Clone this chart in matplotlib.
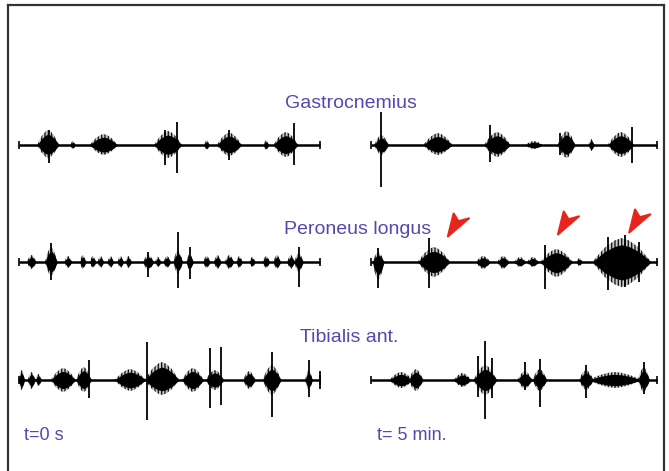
"""
EMG traces: gastrocnemius, peroneus longus and tibialis anterior,
at t=0 s (left) and after 5 min (right).
"""

import matplotlib.pyplot as plt
from matplotlib.path import Path
from matplotlib.patches import PathPatch
from matplotlib.transforms import Affine2D

plt.rcParams["font.family"] = ["Liberation Sans", "DejaVu Sans"]
plt.rcParams["hatch.linewidth"] = 1.0
plt.rcParams["hatch.color"] = "#1a1a1a"

# each trace is a 10 s recording; amplitudes in mV
# bursts: (time, half width, amplitude up, amplitude down)
# spikes: (time, amplitude up, amplitude down)
gas_left_bursts = [(0.98, 0.35, 0.30, 0.26), (1.80, 0.08, 0.08, 0.08),
                   (2.82, 0.45, 0.22, 0.20), (4.95, 0.45, 0.28, 0.26),
                   (6.23, 0.08, 0.10, 0.10), (6.98, 0.40, 0.25, 0.22),
                   (8.20, 0.08, 0.10, 0.10), (8.85, 0.40, 0.26, 0.24)]
gas_left_spikes = [(1.00, 0.30, 0.35), (4.85, 0.30, 0.40), (5.25, 0.46, 0.56),
                   (6.98, 0.30, 0.30), (9.11, 0.44, 0.40)]

gas_right_bursts = [(0.35, 0.25, 0.20, 0.20), (2.33, 0.50, 0.24, 0.20),
                    (4.41, 0.45, 0.26, 0.24), (5.70, 0.30, 0.08, 0.08),
                    (6.84, 0.30, 0.28, 0.26), (7.71, 0.10, 0.12, 0.12),
                    (8.75, 0.45, 0.26, 0.24)]
gas_right_spikes = [(0.35, 0.66, 0.84), (4.17, 0.40, 0.34), (6.60, 0.25, 0.20),
                    (9.13, 0.36, 0.36)]

per_left_bursts = [(0.43, 0.15, 0.14, 0.14), (1.08, 0.20, 0.30, 0.28),
                   (1.64, 0.12, 0.12, 0.12), (2.13, 0.10, 0.14, 0.14),
                   (2.46, 0.10, 0.12, 0.12), (2.72, 0.10, 0.12, 0.12),
                   (3.05, 0.10, 0.12, 0.12), (3.38, 0.10, 0.12, 0.12),
                   (3.64, 0.10, 0.12, 0.12), (4.30, 0.18, 0.14, 0.16),
                   (4.62, 0.10, 0.10, 0.10), (4.92, 0.12, 0.12, 0.12),
                   (5.28, 0.15, 0.24, 0.24), (5.67, 0.12, 0.16, 0.16),
                   (6.23, 0.12, 0.12, 0.12), (6.59, 0.12, 0.14, 0.14),
                   (6.98, 0.15, 0.14, 0.14), (7.31, 0.10, 0.12, 0.12),
                   (7.74, 0.10, 0.10, 0.10), (8.20, 0.12, 0.12, 0.12),
                   (8.56, 0.12, 0.14, 0.14), (9.02, 0.12, 0.14, 0.14),
                   (9.28, 0.15, 0.18, 0.20)]
per_left_spikes = [(1.08, 0.38, 0.36), (4.30, 0.20, 0.30), (5.28, 0.60, 0.52),
                   (5.67, 0.30, 0.34), (9.28, 0.30, 0.50)]

per_right_bursts = [(0.24, 0.20, 0.20, 0.36), (2.19, 0.55, 0.30, 0.30),
                    (3.92, 0.25, 0.12, 0.14), (4.62, 0.20, 0.12, 0.14),
                    (5.21, 0.20, 0.10, 0.10), (5.66, 0.20, 0.10, 0.10),
                    (6.49, 0.55, 0.26, 0.30), (7.29, 0.10, 0.08, 0.08),
                    (8.78, 1.00, 0.48, 0.50)]
per_right_spikes = [(0.24, 0.28, 0.52), (2.01, 0.48, 0.52), (6.08, 0.34, 0.54),
                    (8.30, 0.50, 0.56), (8.90, 0.54, 0.50), (9.40, 0.40, 0.40)]

tib_left_bursts = [(0.10, 0.10, 0.20, 0.20), (0.43, 0.12, 0.16, 0.18),
                   (0.66, 0.10, 0.12, 0.12), (1.48, 0.40, 0.24, 0.24),
                   (2.16, 0.25, 0.26, 0.24), (3.70, 0.50, 0.22, 0.22),
                   (4.75, 0.55, 0.36, 0.30), (5.77, 0.35, 0.24, 0.24),
                   (6.50, 0.30, 0.20, 0.20), (7.64, 0.20, 0.18, 0.18),
                   (8.39, 0.30, 0.30, 0.30), (9.61, 0.12, 0.20, 0.20)]
tib_left_spikes = [(2.33, 0.40, 0.36), (4.26, 0.76, 0.80), (6.33, 0.64, 0.56),
                   (6.72, 0.66, 0.50), (8.39, 0.56, 0.74), (9.61, 0.40, 0.34),
                   (9.98, 0.18, 0.18)]

tib_right_bursts = [(1.04, 0.40, 0.16, 0.16), (1.56, 0.25, 0.22, 0.22),
                    (3.19, 0.30, 0.14, 0.14), (3.99, 0.40, 0.30, 0.30),
                    (5.38, 0.25, 0.18, 0.18), (5.90, 0.25, 0.22, 0.22),
                    (7.53, 0.25, 0.20, 0.20), (8.54, 0.90, 0.16, 0.16),
                    (9.55, 0.20, 0.26, 0.24)]
tib_right_spikes = [(3.72, 0.48, 0.34), (3.99, 0.78, 0.78), (4.24, 0.44, 0.36),
                    (5.38, 0.36, 0.20), (5.90, 0.42, 0.54), (7.53, 0.30, 0.36),
                    (9.55, 0.36, 0.28)]

# arrowhead tips over the peroneus longus trace at 5 min (time, amplitude)
arrow_tips = [(2.67, 0.50), (6.53, 0.54), (9.03, 0.58)]

muscle_names = ["Gastrocnemius", "Peroneus longus", "Tibialis ant."]
time_labels = ["t=0 s", "t= 5 min."]

LABEL_COLOR = "#5548b0"
W, H = 669, 471


def draw_trace(rect, bursts, spikes):
    ax = fig.add_axes(rect)
    ax.set_xlim(-0.05, 10.05)
    ax.set_ylim(-1, 1)
    ax.axis("off")
    ax.patch.set_alpha(0)
    ax.plot([0, 10], [0, 0], color="black", lw=1.8, solid_capstyle="butt")
    ax.vlines([0, 10], -0.08, 0.08, color="black", lw=1.2)
    for t, hw, up, down in bursts:
        xs = [t - hw, t - 0.6 * hw, t - 0.25 * hw, t, t + 0.25 * hw, t + 0.6 * hw, t + hw]
        env = [0.05, 0.6, 0.9, 1.0, 0.9, 0.6, 0.05]
        # streaky outer envelope, dark core
        ax.fill_between(xs, [-down * e for e in env], [up * e for e in env],
                        facecolor="#a8a8a8", alpha=0.6, hatch="|||||", lw=0)
        ax.fill_between(xs, [-0.72 * down * e for e in env],
                        [0.72 * up * e for e in env], color="black", lw=0)
    for t, up, down in spikes:
        ax.vlines(t, -down, up, color="black", lw=1.3)
    return ax


fig = plt.figure(figsize=(W / 100, H / 100), dpi=100)

# frame (bottom edge cropped off)
frame = fig.add_axes([8 / W, 0, 656 / W, 1 - 5 / H])
frame.set_xticks([])
frame.set_yticks([])
frame.spines["bottom"].set_visible(False)
for s in ["left", "top", "right"]:
    frame.spines[s].set_linewidth(1.6)
    frame.spines[s].set_color("#333333")

left_x, left_w = 17 / W, 305 / W
right_x, right_w = 370 / W, 288 / W
baselines = [145, 262, 380]  # pixel rows of trace baselines
traces = [(gas_left_bursts, gas_left_spikes, gas_right_bursts, gas_right_spikes),
          (per_left_bursts, per_left_spikes, per_right_bursts, per_right_spikes),
          (tib_left_bursts, tib_left_spikes, tib_right_bursts, tib_right_spikes)]

axes_right = []
for base, (lb, ls, rb, rs) in zip(baselines, traces):
    bottom = (H - base - 50) / H
    draw_trace([left_x, bottom, left_w, 100 / H], lb, ls)
    axes_right.append(draw_trace([right_x, bottom, right_w, 100 / H], rb, rs))

# red arrowheads pointing down-left; shape drawn in pixels, tip at origin
head = Path([(0, 0), (6, 24), (11, 16), (22, 19), (0, 0)],
            [Path.MOVETO, Path.LINETO, Path.LINETO, Path.LINETO, Path.CLOSEPOLY])
ax_per = axes_right[1]
for t, a in arrow_tips:
    x_px, y_px = ax_per.transData.transform((t, a))
    patch = PathPatch(head, transform=Affine2D().translate(x_px, y_px),
                      fc="#e8241c", ec="#e8241c", lw=1.2)
    fig.add_artist(patch)

label_pos = [(351, 104), (358, 229), (349, 337)]
for name, (x, y) in zip(muscle_names, label_pos):
    fig.text(x / W, 1 - y / H, name, ha="center", va="center",
             fontsize=14, color=LABEL_COLOR)

fig.text(24 / W, 1 - 435 / H, time_labels[0], ha="left", va="center",
         fontsize=13, color=LABEL_COLOR)
fig.text(377 / W, 1 - 435 / H, time_labels[1], ha="left", va="center",
         fontsize=13, color=LABEL_COLOR)

fig.savefig("out.png", dpi=100)
